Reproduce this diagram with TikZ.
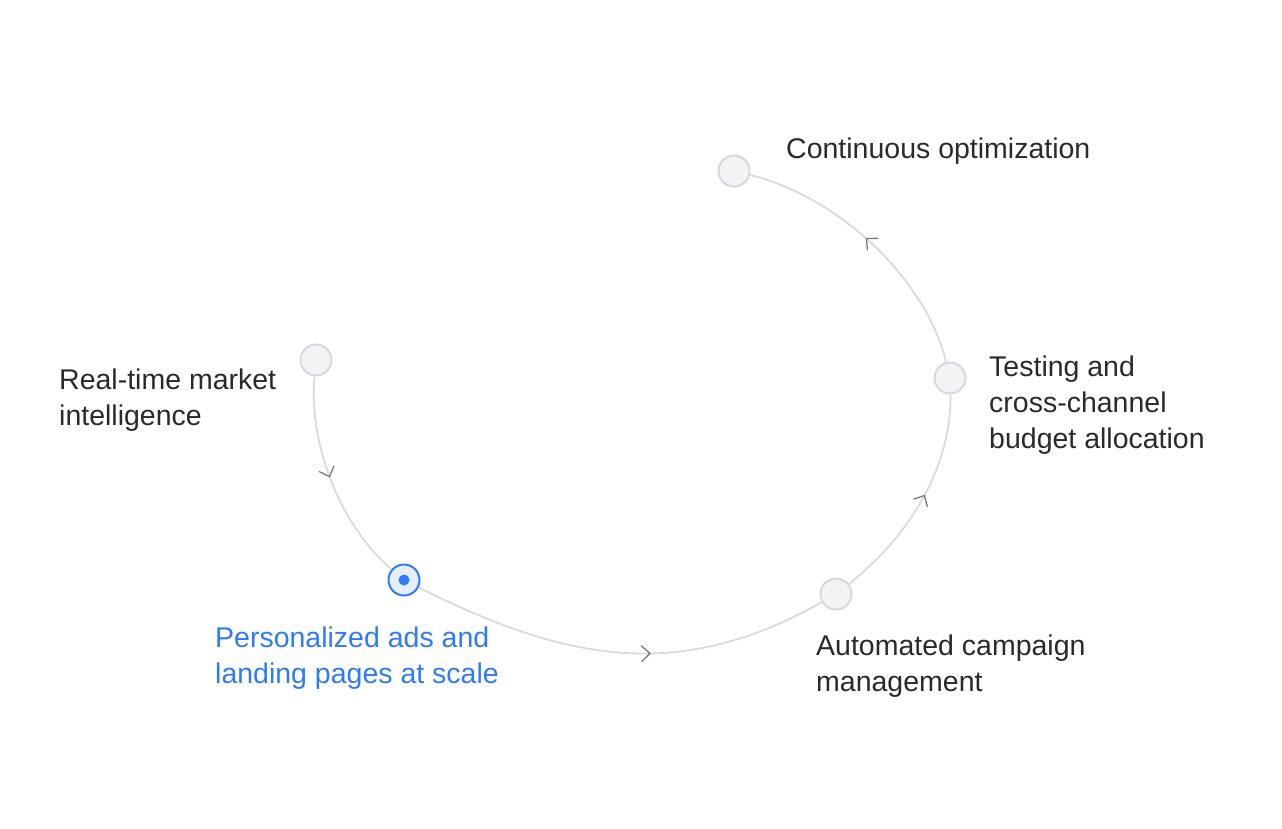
\documentclass[tikz,border=0pt]{standalone}
\usepackage{fontspec}
\setmainfont{Liberation Sans}
\usetikzlibrary{arrows.meta,decorations.markings}
\definecolor{nodefill}{HTML}{F3F3F5}
\definecolor{nodeline}{HTML}{D8D8DC}
\definecolor{pathline}{HTML}{DADADA}
\definecolor{tipgray}{HTML}{7A7A7A}
\definecolor{activeblue}{HTML}{2F7BFF}
\definecolor{activefill}{HTML}{E6EFFF}
\definecolor{textdark}{HTML}{2A2A2A}
\definecolor{textblue}{HTML}{2F7BF5}
\tikzset{
  stepnode/.style={circle, minimum size=31pt, inner sep=0pt, draw=nodeline, line width=2pt, fill=nodefill},
  activenode/.style={circle, minimum size=31pt, inner sep=0pt, draw=activeblue, line width=2pt, fill=activefill},
  activedot/.style={circle, minimum size=11pt, inner sep=0pt, fill=activeblue},
  label text/.style={anchor=base west, align=left, inner sep=0pt, text=textdark, font=\fontsize{28.5}{36}\selectfont},
  flow/.style={draw=pathline, line width=1.8pt, postaction={decorate},
    decoration={markings, mark=at position #1 with {\arrow[tipgray, line width=1.3pt]{Straight Barb[length=8.5pt,width=16pt]}}}},
}
\begin{document}
\begin{tikzpicture}[x=1pt,y=1pt]
\useasboundingbox (0,0) rectangle (1282,-828);
\node[stepnode] (n1) at (316,-360) {};
\node[activenode] (n2) at (404,-580) {};
\node[activedot] (n2dot) at (404,-580) {};
\node[stepnode] (n3) at (836,-594) {};
\node[stepnode] (n4) at (950,-378) {};
\node[stepnode] (n5) at (734,-171) {};

\path[flow=0.48] (n1) .. controls (308,-450) and (345,-530) .. (n2);
\path[flow=0.575] (n2) .. controls (565,-661) and (679,-683) .. (n3);
\path[flow=0.53] (n3) .. controls (915,-532) and (952,-460) .. (n4);
\path[flow=0.53] (n4) .. controls (925,-276) and (836,-196) .. (n5);

\node[label text] (t5) at (786,-158) {Continuous optimization};
\node[label text] (t1) at (59,-425) {Real-time market\\intelligence};
\node[label text] (t4) at (989,-448) {Testing and\\cross-channel\\budget allocation};
\node[label text] (t3) at (816,-691) {Automated campaign\\management};
\node[label text, text=textblue] (t2) at (215,-683) {Personalized ads and\\landing pages at scale};
\end{tikzpicture}
\end{document}
